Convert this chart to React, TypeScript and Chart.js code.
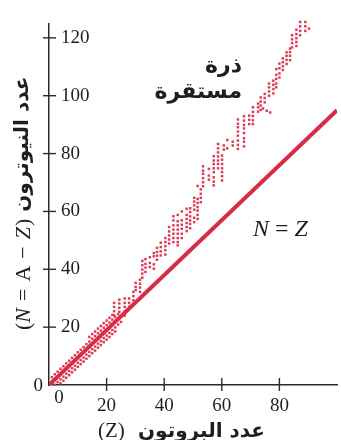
import { useEffect, useRef } from "react";
import { Chart, registerables } from "chart.js";

Chart.register(...registerables);

// ---------- data ----------
const xTickValues = [0, 20, 40, 60, 80];
const xTickLabels = ["0", "20", "40", "60", "80"];
const yTickValues = [0, 20, 40, 60, 80, 100, 120];
const yTickLabels = ["0", "20", "40", "60", "80", "100", "120"];

// N = Z reference line (as drawn)
const lineZ = [0, 100];
const lineN = [0, 95];

// stable nuclei dots, grouped in columns (Z position -> N values)
const dotZ = [
  1, 2, 3, 4, 5, 6, 7, 8, 9, 10, 11, 12, 13, 14, 15, 16, 17, 18, 19, 20, 21, 22, 23, 24, 25,
  22.6, 24.4, 26.3, 27.8, 29.3, 30.1, 31.6, 32.4, 33.5, 35.0, 36.4, 37.5, 38.8, 40.4, 41.7,
  43.2, 44.7, 46.1, 47.8, 49.0, 50.4, 51.6, 52.7, 53.5, 55.5, 57.2, 58.7, 60.1, 60.7, 61.9,
  63.8, 65.6, 67.7, 69.5, 70.8, 72.6, 73.5, 74.3, 74.9, 75.6, 76.4, 76.8, 77.9, 78.9, 80.0,
  81.2, 82.5, 83.7, 84.4, 85.9, 87.2, 89.0, 90.3, 91.8, 93.5,
];
const dotN = [
  [2.7], [3.7, 0.1], [4.6, 1.0], [5.6, 2.0, 0.6], [6.5, 2.9, 1.5], [7.5, 3.9, 2.5],
  [8.4, 4.8, 3.4], [9.4, 5.8, 4.4], [10.3, 6.7, 5.3], [11.3, 7.7, 6.3], [12.2, 8.6, 7.2],
  [13.1, 9.5, 8.1], [14.1, 10.5, 9.1], [16.6, 15.0, 11.4, 10.0], [17.6, 16.0, 12.4, 11.0],
  [18.5, 16.9, 13.3, 11.9], [19.5, 17.9, 14.3, 12.9], [20.4, 18.8, 15.2, 13.8],
  [21.4, 19.8, 16.2, 14.8], [22.3, 20.7, 17.1, 15.7], [23.2, 21.6, 18.0, 16.6],
  [24.2, 22.6, 19.0, 17.6], [23.5, 19.9, 18.5], [24.5, 20.9], [21.8],
  [28.4, 27.0, 25.5, 24.1], [29.5, 28.2, 26.7, 25.3], [29.9, 28.4, 27.0, 25.5, 24.0],
  [29.9, 28.4, 27.0], [32.2, 30.7, 29.3], [35.3, 33.9, 32.8], [36.4, 35.0, 33.7, 32.2],
  [42.9, 41.4, 39.9, 38.5, 37.1], [43.5, 41.9, 40.6, 39.1], [44.2, 42.2, 40.8],
  [45.6, 44.5, 41.7, 40.2], [47.4, 46.0, 44.7, 43.3], [49.2, 47.7, 46.2, 44.8],
  [50.8, 49.4, 48.0, 46.6, 45.1], [54.6, 53.1, 51.7, 50.3, 48.9],
  [58.3, 56.9, 55.2, 53.7, 52.3, 50.8, 49.4], [58.8, 56.6, 55.2, 53.7, 52.3, 50.8, 49.4, 48.3],
  [60.0, 56.9, 55.4, 54.0, 52.3, 50.8], [60.9, 58.8, 57.4, 56.0, 54.6, 53.2],
  [61.1, 59.8, 58.3, 56.9, 55.7, 54.2], [64.7, 63.4, 62.1, 60.6, 57.8, 56.3],
  [68.8, 64.3, 62.9, 61.5, 60.3, 58.8, 57.4], [67.6, 66.1, 64.7, 63.2],
  [75.6, 74.1, 73.0, 71.5, 70.1, 68.7], [74.7, 72.4, 71.0],
  [79.1, 77.6, 76.4, 74.9, 73.6, 71.8, 70.3, 69.0], [83.3, 81.8, 80.4, 79.0, 77.6, 76.4, 74.9],
  [79.3, 77.9, 76.4, 74.9, 73.6, 72.2, 70.7], [82.8, 81.4], [84.7, 81.8], [84.1, 82.8],
  [91.8, 90.3, 89.1, 87.6, 86.2, 84.5, 83.0, 81.6], [92.9, 91.4, 89.9, 88.7, 87.1, 85.3, 84.1, 82.5],
  [93.1, 91.7, 90.2], [96.0, 94.4, 93.0, 91.5, 90.2], [97.3, 96.0, 94.5], [99.4, 98.0, 96.6, 95.1],
  [95.6], [100.6, 99.2, 97.7], [94.8], [104.2, 102.9, 101.5, 100.0], [94.2],
  [105.2, 103.8, 102.3, 100.8], [109.2, 107.2, 105.8, 104.2, 102.9], [111.1, 109.5, 107.7, 106.3],
  [112.9, 111.6, 110.2, 108.9], [115.0, 113.8, 112.4, 111.0], [116.3, 115.1, 113.8, 112.3],
  [120.9, 119.5, 118.2, 116.7], [122.8, 121.3, 119.9, 118.6, 117.2], [125.5, 124.0, 122.4, 120.9],
  [125.5, 124.0, 122.4], [127.6, 126.4, 123.2], [127.8], [128.5],
];

const xTitleArabic = "عدد البروتون";
const xTitleLatin = "(Z)";
const yTitleArabic = "عدد النيوترون";
const stableLabel = ["ذرة", "مستقرة"];

// ---------- styles ----------
const RED_LINE = "#d92b48";
const RED_DOT = "#dd3a55";
const AXIS = "#2b2b2b";
const TEXT = "#1e1e1e";
const SERIF = "'Liberation Serif', 'DejaVu Serif', serif";
const ARABIC = "'DejaVu Sans', 'Noto Sans', sans-serif";

const annotations = {
  id: "annotations",
  afterDraw(chart: any) {
    const { ctx } = chart;
    const x = chart.scales.x;
    const y = chart.scales.y;
    ctx.save();
    // cross tick marks
    ctx.strokeStyle = AXIS;
    ctx.lineWidth = 1.4;
    yTickValues.forEach((v) => {
      if (v === 0) return;
      const py = y.getPixelForValue(v);
      ctx.beginPath();
      ctx.moveTo(x.left - 6, py);
      ctx.lineTo(x.left + 7, py);
      ctx.stroke();
    });
    xTickValues.forEach((v) => {
      if (v === 0) return;
      const px = x.getPixelForValue(v);
      ctx.beginPath();
      ctx.moveTo(px, y.bottom - 7);
      ctx.lineTo(px, y.bottom + 6);
      ctx.stroke();
    });

    ctx.fillStyle = TEXT;
    // tick labels on x and the two zero labels
    ctx.font = `19px ${SERIF}`;
    ctx.textAlign = "center";
    ctx.textBaseline = "top";
    xTickValues.forEach((v, i) => {
      if (i === 0) return;
      ctx.fillText(xTickLabels[i], x.getPixelForValue(v), y.bottom + 12);
    });
    ctx.fillText(xTickLabels[0], x.getPixelForValue(0) + 10, y.bottom + 4);
    ctx.textAlign = "right";
    ctx.textBaseline = "middle";
    ctx.fillText(yTickLabels[0], x.left - 6, y.getPixelForValue(0) + 1);

    // N = Z label
    ctx.textAlign = "left";
    ctx.textBaseline = "alphabetic";
    let cx = 253;
    const nz: [string, string][] = [
      ["N", `italic 24px ${SERIF}`],
      [" = ", `24px ${SERIF}`],
      ["Z", `italic 24px ${SERIF}`],
    ];
    nz.forEach(([t, f]) => {
      ctx.font = f;
      ctx.fillText(t, cx, 236);
      cx += ctx.measureText(t).width;
    });

    // stable atom label
    ctx.font = `bold 22px ${ARABIC}`;
    ctx.textAlign = "right";
    ctx.fillText(stableLabel[0], 242, 72);
    ctx.fillText(stableLabel[1], 242, 98);

    // x title
    ctx.font = `bold 20px ${ARABIC}`;
    ctx.textAlign = "right";
    ctx.fillText(xTitleArabic, 265, 437);
    ctx.font = `21px ${SERIF}`;
    ctx.textAlign = "left";
    ctx.fillText(xTitleLatin, 98, 437);

    // y title (rotated)
    ctx.translate(24, 330);
    ctx.rotate(-Math.PI / 2);
    ctx.textAlign = "left";
    ctx.textBaseline = "middle";
    let ty = 0;
    const parts: [string, string, number][] = [
      ["(", `22px ${SERIF}`, 0],
      ["N", `italic 22px ${SERIF}`, 7],
      ["=", `22px ${SERIF}`, 7],
      ["A", `22px ${SERIF}`, 7],
      ["−", `22px ${SERIF}`, 7],
      ["Z", `italic 22px ${SERIF}`, 1],
      [")", `22px ${SERIF}`, 0],
    ];
    parts.forEach(([t, f, gap]) => {
      ctx.font = f;
      ctx.fillText(t, ty, 0);
      ty += ctx.measureText(t).width + gap;
    });
    ty += 7;
    ctx.font = `bold 20px ${ARABIC}`;
    ctx.fillText(yTitleArabic, ty, -1);
    ctx.restore();
  },
};

export default function App() {
  const canvasRef = useRef<HTMLCanvasElement | null>(null);

  useEffect(() => {
    document.body.style.margin = "0";
    const canvas = canvasRef.current;
    if (!canvas) return;

    const dots: { x: number; y: number }[] = [];
    dotZ.forEach((z, i) => {
      dotN[i].forEach((n) => dots.push({ x: z, y: n }));
    });
    const line = lineZ.map((z, i) => ({ x: z, y: lineN[i] }));

    const chart = new Chart(canvas, {
      type: "scatter",
      data: {
        datasets: [
          {
            data: line,
            showLine: true,
            borderColor: RED_LINE,
            borderWidth: 4,
            pointRadius: 0,
            order: 0,
          } as any,
          {
            data: dots,
            pointStyle: "rect",
            pointRadius: 1.75,
            pointBorderWidth: 0,
            pointBackgroundColor: RED_DOT,
            backgroundColor: RED_DOT,
            borderWidth: 0,
            clip: false,
            order: 1,
          } as any,
        ],
      },
      options: {
        animation: false,
        responsive: false,
        maintainAspectRatio: false,
        events: [],
        layout: { padding: { left: 49, right: 1, top: 22, bottom: 55 } },
        plugins: { legend: { display: false }, tooltip: { enabled: false } },
        scales: {
          x: {
            type: "linear",
            min: 0,
            max: 100,
            afterFit: (s: any) => {
              s.height = 0;
            },
            afterBuildTicks: (s: any) => {
              s.ticks = xTickValues.map((v) => ({ value: v }));
            },
            grid: { display: false, drawTicks: false },
            border: { display: true, color: AXIS, width: 1.5 },
            ticks: { display: false },
          },
          y: {
            type: "linear",
            min: 0,
            max: 125,
            afterFit: (s: any) => {
              s.width = 0;
            },
            afterBuildTicks: (s: any) => {
              s.ticks = yTickValues.map((v) => ({ value: v }));
            },
            grid: { display: false, drawTicks: false },
            border: { display: true, color: AXIS, width: 1.5 },
            ticks: {
              mirror: true,
              padding: 12,
              color: TEXT,
              font: { family: SERIF, size: 19 },
              autoSkip: false,
              callback: (_v: any, i: number) => (i === 0 ? "" : yTickLabels[i]),
            },
          },
        },
      },
      plugins: [annotations],
    });
    return () => chart.destroy();
  }, []);

  return (
    <div style={{ width: 341, height: 440 }}>
      <canvas ref={canvasRef} width={341} height={440} style={{ display: "block" }} />
    </div>
  );
}
